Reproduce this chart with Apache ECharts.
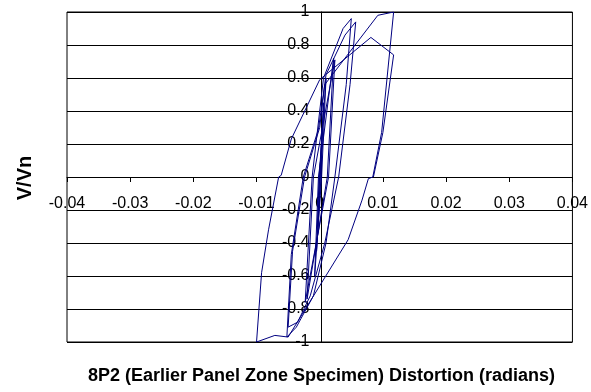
<!DOCTYPE html>
<html>
<head>
<meta charset="utf-8">
<script src="https://cdn.jsdelivr.net/npm/echarts@6/dist/echarts.min.js"></script>
<style>
html,body{margin:0;padding:0;background:#fff;}
#chart{width:591px;height:392px;}
</style>
</head>
<body>
<div id="chart"></div>
<script>
// Panel zone distortion (radians), in loading order
var distortion = [
  0, 0.0004, 0.0001, -0.0003, 0.0000,
  0.0006, 0.0002, -0.0005, -0.0001,
  0.0010, 0.0003, -0.0008, -0.0002,
  0.0022, 0.0012, -0.0020, -0.0010,
  0.0024, 0.0014, -0.0023, -0.0012,
  0.0006, 0.0037, 0.0050, 0.0042, 0.0024, 0.0010, -0.0010, -0.0037, -0.0052,
  -0.0045, -0.0026, -0.0002, 0.0010, 0.0040, 0.0057,
  0.0048, 0.0030, 0.0008, -0.0015, -0.0035, -0.0050,
  -0.0043, -0.0024, 0.0000, 0.0008, 0.0092, 0.0117,
  0.0098, 0.0084, 0.0077, 0.0067, 0.0045, -0.0050, -0.0071, -0.0100,
  -0.0092, -0.0081, -0.0065, -0.0061, -0.0045, 0.0000, 0.0081, 0.0117,
  0.0100, 0.0085
];
// Normalised shear V/Vn
var shearRatio = [
  0, 0.30, 0.00, -0.30, 0.00,
  0.45, 0.00, -0.45, 0.00,
  0.60, 0.00, -0.60, 0.00,
  0.72, 0.00, -0.74, 0.00,
  0.71, 0.00, -0.76, 0.00,
  0.60, 0.90, 0.96, 0.56, 0.00, -0.40, -0.72, -0.91, -0.97,
  -0.47, 0.00, 0.29, 0.62, 0.86, 0.94,
  0.56, 0.00, -0.40, -0.72, -0.88, -0.91,
  -0.45, 0.00, 0.30, 0.56, 0.98, 1.00,
  0.27, 0.00, -0.01, -0.14, -0.38, -0.97, -0.96, -1.00,
  -0.58, -0.32, 0.00, 0.01, 0.23, 0.59, 0.846, 0.74,
  0.27, 0.00
];
var xTitle = '8P2 (Earlier Panel Zone Specimen) Distortion (radians)';
var yTitle = 'V/Vn';

var pts = distortion.map(function (x, i) { return [x, shearRatio[i]]; });

var gridLeft = 67, gridRight = 15, gridTop = 12, gridBottom = 50;
var W = 591, H = 392;
var plotW = W - gridLeft - gridRight, plotH = H - gridTop - gridBottom;
// move the axes to cross at the origin (x range symmetric, y range symmetric)
var yAxisOffset = -plotW / 2;
var xAxisOffset = -plotH / 2;
var plotCenterX = gridLeft + plotW / 2;

var chart = echarts.init(document.getElementById('chart'), null, {renderer: 'canvas'});
var font = '"Liberation Sans", Arial, sans-serif';
chart.setOption({
  animation: false,
  backgroundColor: '#fff',
  grid: {left: gridLeft, right: gridRight, top: gridTop, bottom: gridBottom, show: true, borderColor: '#000', borderWidth: 1, containLabel: false},
  xAxis: {
    type: 'value', min: -0.04, max: 0.04, interval: 0.01, position: 'bottom', offset: xAxisOffset,
    axisLine: {show: true, onZero: false, lineStyle: {color: '#000', width: 1}},
    axisTick: {show: true, length: 5, lineStyle: {color: '#000'}},
    axisLabel: {margin: 19, color: '#000', fontSize: 16, fontFamily: font, showMinLabel: true, showMaxLabel: true,
      formatter: function (v) { return String(parseFloat(v.toFixed(2))); }},
    splitLine: {show: false}
  },
  yAxis: {
    type: 'value', min: -1, max: 1, interval: 0.2, position: 'left', offset: yAxisOffset,
    axisLine: {show: true, onZero: false, lineStyle: {color: '#000', width: 1}},
    axisTick: {show: true, length: 5, lineStyle: {color: '#000'}},
    axisLabel: {margin: 12, color: '#000', fontSize: 16, fontFamily: font, showMinLabel: true, showMaxLabel: true,
      formatter: function (v) { return String(parseFloat(v.toFixed(1))); }},
    splitLine: {show: true, lineStyle: {color: '#000', width: 1}}
  },
  graphic: [
    {type: 'text', x: plotCenterX, y: 367, style: {text: xTitle, font: 'bold 18px ' + font, fill: '#000', align: 'center', verticalAlign: 'top'}},
    {type: 'text', x: 15, y: 178, rotation: Math.PI / 2, style: {text: yTitle, font: 'bold 20px ' + font, fill: '#000', align: 'center', verticalAlign: 'top'}}
  ],
  series: [{
    type: 'line', data: pts, showSymbol: false, symbol: 'none',
    lineStyle: {color: '#000080', width: 1}, z: 5
  }]
});
</script>
</body>
</html>
